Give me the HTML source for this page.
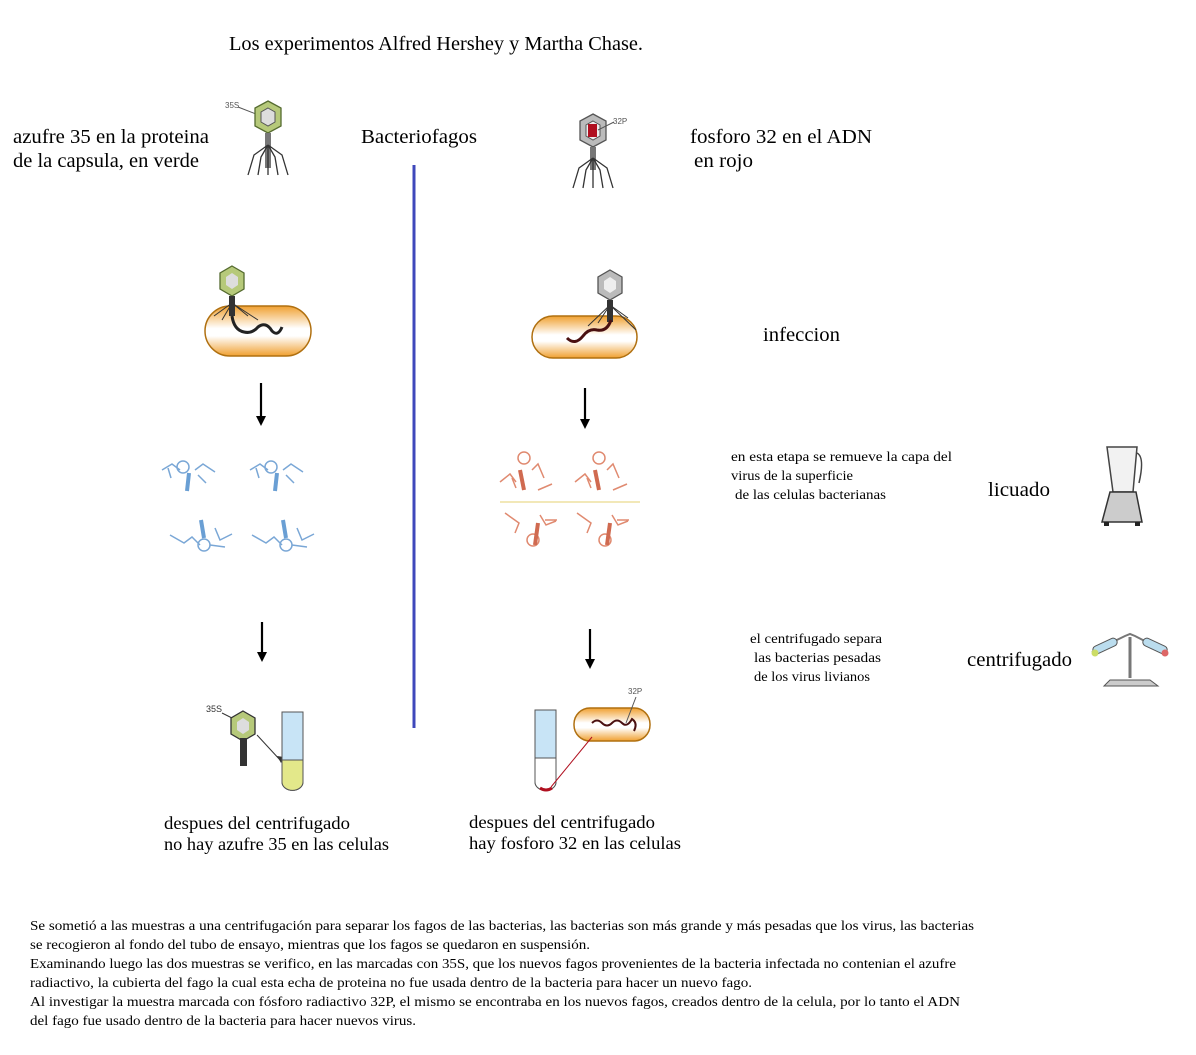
<!DOCTYPE html>
<html><head><meta charset="utf-8"><style>
html,body{margin:0;padding:0;background:#fff;}
svg{display:block}
.s{font-family:"Liberation Serif",serif;fill:#000}
</style></head><body>
<svg width="1196" height="1055" viewBox="0 0 1196 1055" xmlns="http://www.w3.org/2000/svg">
<defs>
<linearGradient id="bac" x1="0" y1="0" x2="0" y2="1">
<stop offset="0" stop-color="#f0a030"/><stop offset="0.45" stop-color="#fff"/><stop offset="0.6" stop-color="#fff"/><stop offset="1" stop-color="#f0a030"/>
</linearGradient>
<g id="legs" stroke="#333" stroke-width="1.3" fill="none">
<path d="M0,0 L-14,10 L-20,30 M0,0 L-7,12 L-10,30 M0,0 L0,30 M0,0 L7,12 L10,30 M0,0 L14,10 L20,30"/>
</g>
</defs>
<g lengthAdjust="spacingAndGlyphs">
<text class="s" x="229" y="50" font-size="20" textLength="414" lengthAdjust="spacingAndGlyphs">Los experimentos Alfred Hershey y Martha Chase.</text>
<text class="s" x="13" y="143" font-size="20" textLength="196" lengthAdjust="spacingAndGlyphs">azufre 35 en la proteina</text>
<text class="s" x="13" y="167" font-size="20" textLength="186" lengthAdjust="spacingAndGlyphs">de la capsula, en verde</text>
<text class="s" x="361" y="143" font-size="20" textLength="116" lengthAdjust="spacingAndGlyphs">Bacteriofagos</text>
<text class="s" x="690" y="143" font-size="20" textLength="182" lengthAdjust="spacingAndGlyphs">fosforo 32 en el ADN</text>
<text class="s" x="694" y="167" font-size="20" textLength="59" lengthAdjust="spacingAndGlyphs">en rojo</text>
</g>
<line x1="414" y1="165" x2="414" y2="728" stroke="#3f48bb" stroke-width="3"/>

<!-- top-left phage -->
<text x="225" y="108" font-family="Liberation Sans,sans-serif" font-size="8" fill="#555">35S</text>
<line x1="238" y1="107" x2="256" y2="114" stroke="#555"/>
<polygon points="268,101 281,108 281,126 268,133 255,126 255,108" fill="#b6c97a" stroke="#556b2f" stroke-width="1.3"/>
<polygon points="268,108 275,112 275,122 268,126 261,122 261,112" fill="#ddd" stroke="#555"/>
<rect x="265" y="133" width="6" height="35" fill="#777"/>
<use href="#legs" x="268" y="145"/>
<!-- top-right phage -->
<text x="613" y="124" font-family="Liberation Sans,sans-serif" font-size="8" fill="#555">32P</text>
<polygon points="593,114 606,121 606,140 593,147 580,140 580,121" fill="#bbb" stroke="#555" stroke-width="1.3"/>
<polygon points="593,121 600,125 600,136 593,140 586,136 586,125" fill="#eee" stroke="#555"/>
<rect x="588" y="124" width="9" height="13" fill="#b01020"/>
<line x1="598" y1="130" x2="614" y2="122" stroke="#555"/>
<rect x="590" y="147" width="6" height="23" fill="#777"/>
<use href="#legs" x="593" y="158"/>

<!-- infection left -->
<rect x="205" y="306" width="106" height="50" rx="25" fill="url(#bac)" stroke="#b07010" stroke-width="1.5"/>
<polygon points="232,266 244,273 244,289 232,296 220,289 220,273" fill="#b6c97a" stroke="#556b2f" stroke-width="1.3"/>
<polygon points="232,273 238,277 238,285 232,289 226,285 226,277" fill="#ddd"/>
<rect x="229" y="296" width="6" height="20" fill="#333"/>
<path d="M232,303 L214,316 M232,303 L222,320 M232,303 L248,316 M232,303 L258,320" stroke="#333" fill="none"/>
<path d="M232,316 q2,14 12,16 q8,2 14,-5 q8,-6 14,4 q6,6 10,-4" stroke="#222" stroke-width="3" fill="none"/>
<!-- infection right -->
<rect x="532" y="316" width="105" height="42" rx="21" fill="url(#bac)" stroke="#b07010" stroke-width="1.5"/>
<polygon points="610,270 622,277 622,293 610,300 598,293 598,277" fill="#bbb" stroke="#555" stroke-width="1.3"/>
<polygon points="610,277 616,281 616,289 610,293 604,289 604,281" fill="#eee"/>
<rect x="607" y="300" width="6" height="22" fill="#333"/>
<path d="M610,305 L588,326 M610,305 L598,323 M610,305 L628,318 M610,305 L636,330" stroke="#333" fill="none"/>
<path d="M611,320 q-4,12 -14,10 q-8,-2 -14,6 q-8,10 -16,2" stroke="#4a1010" stroke-width="3" fill="none"/>

<!-- arrows -->
<g stroke="#000" stroke-width="2.2"><line x1="261" y1="383" x2="261" y2="418"/><line x1="262" y1="622" x2="262" y2="654"/><line x1="585" y1="388" x2="585" y2="421"/><line x1="590" y1="629" x2="590" y2="661"/></g>
<g fill="#000"><polygon points="256,416 266,416 261,426"/><polygon points="257,652 267,652 262,662"/><polygon points="580,419 590,419 585,429"/><polygon points="585,659 595,659 590,669"/></g>

<!-- fragments blue -->
<g stroke="#7aa7d6" stroke-width="1.5" fill="none">
<g id="fb"><circle cx="183" cy="467" r="6"/><path d="M162,470 l10,-6 l8,6 M168,468 l3,10 M195,470 l8,-6 l12,8 M198,475 l8,8"/><path d="M189,473 l-2,18" stroke-width="4" stroke="#6a9fd4"/></g>
<use href="#fb" x="88" y="0"/>
<g id="fb2"><circle cx="204" cy="545" r="6"/><path d="M170,535 l14,8 l8,-6 l8,8 M215,528 l5,12 l12,-6 M210,545 l15,2"/><path d="M201,520 l3,18" stroke-width="4" stroke="#6a9fd4"/></g>
<use href="#fb2" x="82" y="0"/>
</g>
<!-- fragments red -->
<g stroke="#e08a70" stroke-width="1.5" fill="none">
<g id="fr"><circle cx="524" cy="458" r="6"/><path d="M500,482 l10,-8 l6,8 M512,478 l4,10 M532,470 l6,-6 l6,14 M538,490 l14,-6"/><path d="M520,470 l4,20" stroke-width="4" stroke="#d06a50"/></g>
<use href="#fr" x="75" y="0"/>
<g id="fr2"><circle cx="533" cy="540" r="6"/><path d="M505,513 l14,10 l-4,10 M540,515 l6,10 l10,-4 M545,520 l12,0"/><path d="M538,523 l-3,22" stroke-width="4" stroke="#d06a50"/></g>
<use href="#fr2" x="72" y="0"/>
<line x1="500" y1="502" x2="640" y2="502" stroke="#eee0a0"/>
</g>

<text class="s" x="763" y="341" font-size="20" textLength="77" lengthAdjust="spacingAndGlyphs">infeccion</text>
<text class="s" x="731" y="461" font-size="14" textLength="221" lengthAdjust="spacingAndGlyphs">en esta etapa se remueve la capa del</text>
<text class="s" x="731" y="480" font-size="14" textLength="122" lengthAdjust="spacingAndGlyphs">virus de la superficie</text>
<text class="s" x="735" y="499" font-size="14" textLength="151" lengthAdjust="spacingAndGlyphs">de las celulas bacterianas</text>
<text class="s" x="988" y="496" font-size="20" textLength="62" lengthAdjust="spacingAndGlyphs">licuado</text>
<text class="s" x="750" y="643" font-size="14" textLength="132" lengthAdjust="spacingAndGlyphs">el centrifugado separa</text>
<text class="s" x="754" y="662" font-size="14" textLength="127" lengthAdjust="spacingAndGlyphs">las bacterias pesadas</text>
<text class="s" x="754" y="681" font-size="14" textLength="116" lengthAdjust="spacingAndGlyphs">de los virus livianos</text>
<text class="s" x="967" y="666" font-size="20" textLength="105" lengthAdjust="spacingAndGlyphs">centrifugado</text>

<!-- blender -->
<path d="M1107,447 L1137,447 L1133,492 L1113,492 Z" fill="#f2f2f2" stroke="#444" stroke-width="1.5"/>
<path d="M1137,453 q8,4 2,30" stroke="#444" fill="none" stroke-width="1.5"/>
<path d="M1110,492 L1136,492 L1142,522 L1102,522 Z" fill="#ccc" stroke="#333" stroke-width="1.5"/>
<rect x="1104" y="522" width="5" height="4" fill="#222"/><rect x="1135" y="522" width="5" height="4" fill="#222"/>
<!-- centrifuge -->
<line x1="1130" y1="637" x2="1130" y2="678" stroke="#777" stroke-width="3"/>
<path d="M1110,680 L1150,680 L1158,686 L1104,686 Z" fill="#ccc" stroke="#555"/>
<path d="M1092,652 L1125,636 L1130,634 L1135,636 L1166,652" stroke="#777" stroke-width="2" fill="none"/>
<rect x="1092" y="642" width="26" height="8" rx="4" fill="#bde" stroke="#555" transform="rotate(-25 1105 646)"/>
<rect x="1142" y="642" width="26" height="8" rx="4" fill="#bde" stroke="#555" transform="rotate(25 1155 646)"/>
<circle cx="1095" cy="653" r="3.5" fill="#cd6"/><circle cx="1165" cy="653" r="3.5" fill="#d66"/>

<!-- result left -->
<text x="206" y="712" font-family="Liberation Sans,sans-serif" font-size="9" fill="#333">35S</text>
<line x1="222" y1="713" x2="232" y2="718" stroke="#333"/>
<polygon points="243,711 255,718 255,734 243,741 231,734 231,718" fill="#b6c97a" stroke="#333" stroke-width="1.3"/>
<polygon points="243,718 249,722 249,730 243,734 237,730 237,722" fill="#ddd"/>
<rect x="240" y="738" width="7" height="28" fill="#333"/>
<line x1="257" y1="735" x2="281" y2="761" stroke="#333"/>
<polygon points="281,763 277,756 284,757" fill="#333"/>
<path d="M282,712 L282,782 a10,8 0 0 0 21,0 L303,712 Z" fill="#c8e4f6" stroke="#555"/>
<path d="M282,760 L282,782 a10,8 0 0 0 21,0 L303,760 Z" fill="#e3e88a" stroke="#555"/>
<!-- result right -->
<path d="M535,710 L535,782 a10,8 0 0 0 21,0 L556,710 Z" fill="#c8e4f6" stroke="#555"/>
<path d="M535,758 L535,782 a10,8 0 0 0 21,0 L556,758 Z" fill="#fff" stroke="#555"/>
<path d="M540,788 q6,4 12,0" stroke="#b01020" stroke-width="3" fill="none"/>
<rect x="574" y="708" width="76" height="33" rx="16" fill="url(#bac)" stroke="#b07010" stroke-width="1.5"/>
<path d="M592,723 q5,-5 10,0 q5,5 10,0 q5,-5 10,0 q5,5 10,-4 q6,4 2,12" stroke="#4a1010" stroke-width="2" fill="none"/>
<text x="628" y="694" font-family="Liberation Sans,sans-serif" font-size="8" fill="#555">32P</text>
<line x1="636" y1="697" x2="626" y2="723" stroke="#555"/>
<line x1="592" y1="737" x2="551" y2="787" stroke="#b01020"/>

<text class="s" x="164" y="829" font-size="18" textLength="186" lengthAdjust="spacingAndGlyphs">despues del centrifugado</text>
<text class="s" x="164" y="850" font-size="18" textLength="225" lengthAdjust="spacingAndGlyphs">no hay azufre 35 en las celulas</text>
<text class="s" x="469" y="828" font-size="18" textLength="186" lengthAdjust="spacingAndGlyphs">despues del centrifugado</text>
<text class="s" x="469" y="849" font-size="18" textLength="212" lengthAdjust="spacingAndGlyphs">hay fosforo 32 en las celulas</text>

<text class="s" x="30" y="930" font-size="14" textLength="944" lengthAdjust="spacingAndGlyphs">Se sometió a las muestras a una centrifugación para separar los fagos de las bacterias, las bacterias son más grande y más pesadas que los virus, las bacterias</text>
<text class="s" x="30" y="949" font-size="14" textLength="560" lengthAdjust="spacingAndGlyphs">se recogieron al fondo del tubo de ensayo, mientras que los fagos se quedaron en suspensión.</text>
<text class="s" x="30" y="968" font-size="14" textLength="926" lengthAdjust="spacingAndGlyphs">Examinando luego las dos muestras se verifico, en las marcadas con 35S, que los nuevos fagos provenientes de la bacteria infectada no contenian el azufre</text>
<text class="s" x="30" y="987" font-size="14" textLength="722" lengthAdjust="spacingAndGlyphs">radiactivo, la cubierta del fago la cual esta echa de proteina no fue usada dentro de la bacteria para hacer un nuevo fago.</text>
<text class="s" x="30" y="1006" font-size="14" textLength="930" lengthAdjust="spacingAndGlyphs">Al investigar la muestra marcada con fósforo radiactivo 32P, el mismo se encontraba en los nuevos fagos, creados dentro de la celula, por lo tanto el ADN</text>
<text class="s" x="30" y="1025" font-size="14" textLength="386" lengthAdjust="spacingAndGlyphs">del fago fue usado dentro de la bacteria para hacer nuevos virus.</text>
</svg>
</body></html>
